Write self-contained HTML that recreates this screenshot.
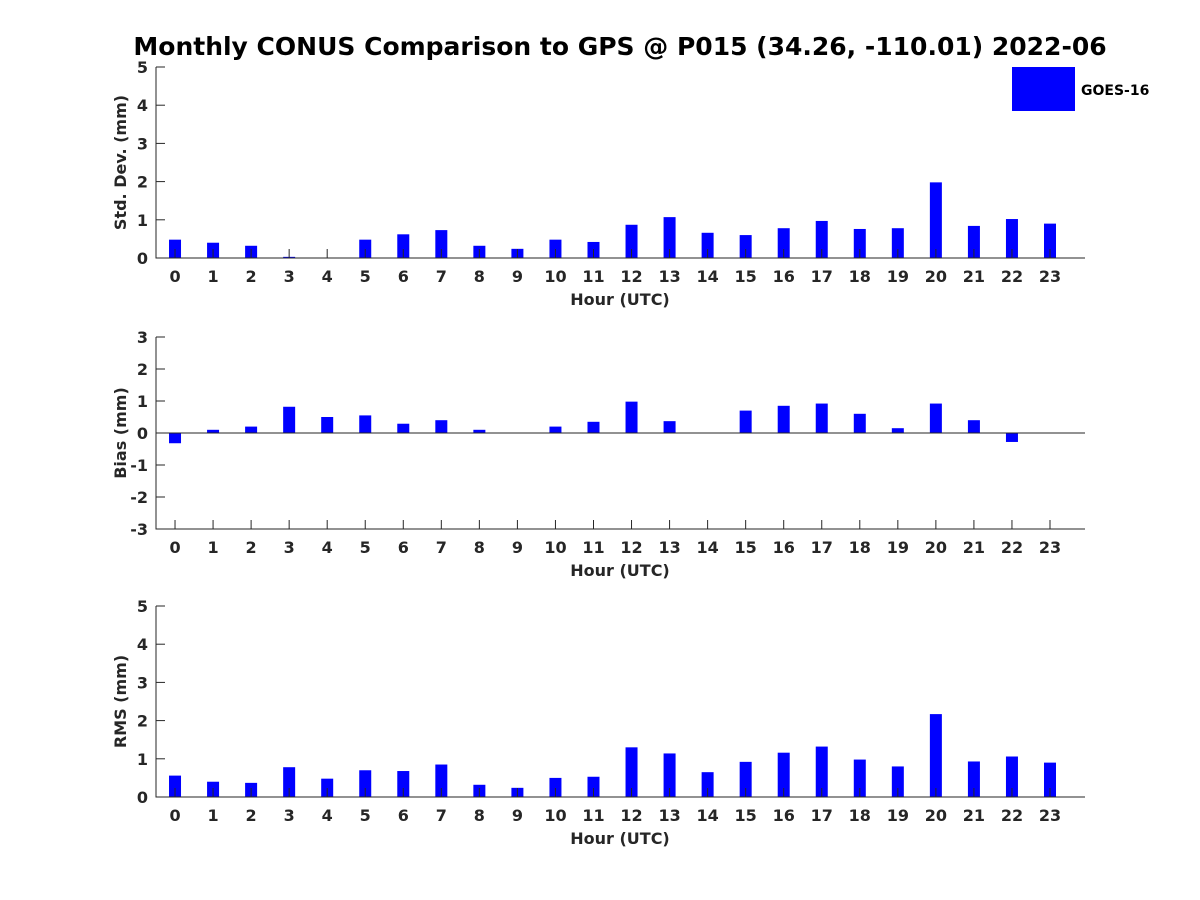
<!DOCTYPE html>
<html><head><meta charset="utf-8"><style>body{margin:0;background:#fff}svg{display:block;font-family:"DejaVu Sans","Liberation Sans",sans-serif}</style></head>
<body>
<svg id="c" width="1200" height="900" xmlns="http://www.w3.org/2000/svg">
<text x="620" y="55" text-anchor="middle" font-size="25" font-weight="bold" fill="#000">Monthly CONUS Comparison to GPS @ P015 (34.26, -110.01) 2022-06</text>
<rect x="1012" y="67" width="63" height="44" fill="#0000ff"/>
<text x="1081" y="95" font-size="14" font-weight="bold">GOES-16</text>
</svg>
<script>
const hours=[0,1,2,3,4,5,6,7,8,9,10,11,12,13,14,15,16,17,18,19,20,21,22,23];
const stdValues=[0.48,0.40,0.32,0.03,0,0.48,0.62,0.73,0.32,0.24,0.48,0.42,0.87,1.07,0.66,0.60,0.78,0.97,0.76,0.78,1.98,0.84,1.02,0.90];
const biasValues=[-0.32,0.10,0.20,0.82,0.50,0.55,0.29,0.40,0.10,0.01,0.20,0.35,0.98,0.37,0,0.70,0.85,0.92,0.60,0.15,0.92,0.40,-0.28,0];
const rmsValues=[0.56,0.40,0.37,0.78,0.48,0.70,0.68,0.85,0.32,0.24,0.50,0.53,1.30,1.14,0.65,0.92,1.16,1.32,0.98,0.80,2.17,0.93,1.06,0.90];
const stdTicks=[0,1,2,3,4,5];
const biasTicks=[-3,-2,-1,0,1,2,3];
const rmsTicks=[0,1,2,3,4,5];
const svg=document.getElementById('c');
const NS='http://www.w3.org/2000/svg';
function mk(t,a){const e=document.createElementNS(NS,t);for(const k in a)e.setAttribute(k,a[k]);svg.appendChild(e);return e;}
const X0=156,X1=1085;
function xs(h){return X0+(h+0.5)*(X1-X0)/24.42;}
function panel(name,vals,ticks,top,bot,ymin,ymax,label){
  const ys=v=>bot-(v-ymin)*(bot-top)/(ymax-ymin);
  hours.forEach((h,i)=>{
    const v=vals[i];const y1=ys(v),y0=ys(0);
    const r=mk('rect',{x:xs(h)-6,y:Math.min(y1,y0),width:12,height:Math.max(Math.abs(y1-y0),0.01),fill:'#0000ff'});
    
    
  });
  const ax=mk('path',{d:`M${X0},${top}V${bot}H${X1}`,stroke:'#262626','stroke-width':1,fill:'none'});
  
  
  if(ymin<0){const zl=mk('line',{x1:X0,x2:X1,y1:ys(0),y2:ys(0),stroke:'#262626'});}
  ticks.forEach(t=>{
    const y=ys(t);
    mk('line',{x1:X0,x2:X0+9,y1:y,y2:y,stroke:'#262626'});
    const tx=mk('text',{x:X0-8,y:y+6,'text-anchor':'end','font-size':16,'font-weight':'bold',fill:'#262626'});
    tx.textContent=t;
    
    
  });
  hours.forEach(h=>{
    const x=xs(h);
    mk('line',{x1:x,x2:x,y1:bot,y2:bot-9,stroke:'#262626'});
    const tx=mk('text',{x:x,y:bot+24,'text-anchor':'middle','font-size':16,'font-weight':'bold',fill:'#262626'});
    tx.textContent=h;
    
    
  });
  const xl=mk('text',{x:620,y:bot+47,'text-anchor':'middle','font-size':16,'font-weight':'bold',fill:'#262626'});
  xl.textContent='Hour (UTC)';
  
  
  const cy=(top+bot)/2;
  const yl=mk('text',{x:126,y:cy,'text-anchor':'middle','font-size':16,'font-weight':'bold',fill:'#262626',transform:`rotate(-90 126 ${cy})`});
  yl.textContent=label;
  
  
}
panel('std',stdValues,stdTicks,67,258,0,5,'Std. Dev. (mm)');
panel('bias',biasValues,biasTicks,337,529,-3,3,'Bias (mm)');
panel('rms',rmsValues,rmsTicks,606,797,0,5,'RMS (mm)');
</script>
</body></html>
